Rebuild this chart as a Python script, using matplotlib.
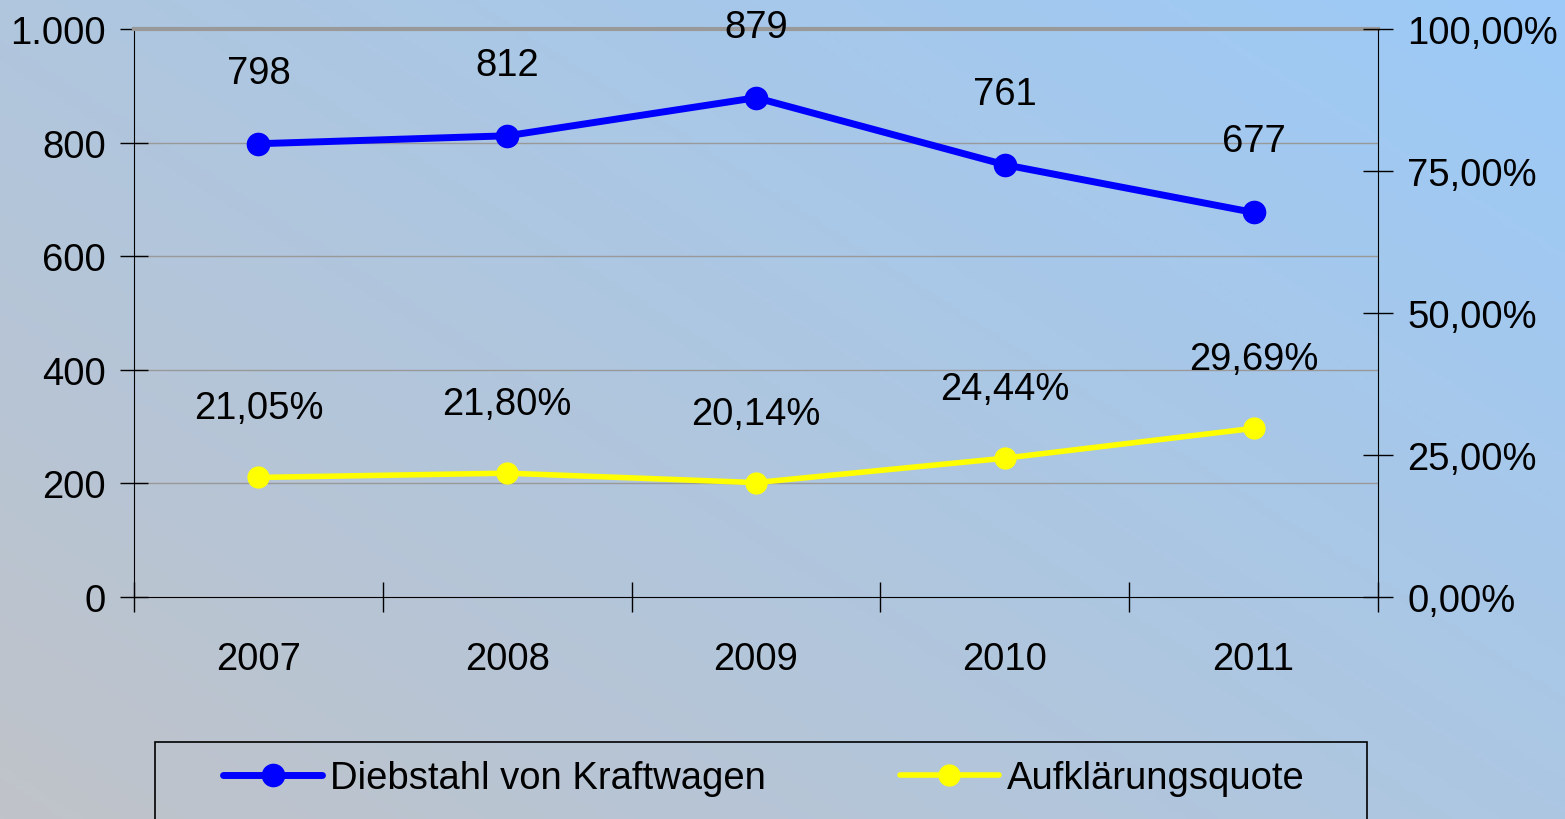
import matplotlib
matplotlib.use("Agg")
import matplotlib.pyplot as plt
import numpy as np
from matplotlib.patches import Rectangle
from matplotlib.lines import Line2D

years = ["2007", "2008", "2009", "2010", "2011"]
diebstahl = [798, 812, 879, 761, 677]
quote = [21.05, 21.80, 20.14, 24.44, 29.69]
left_ticks = [0, 200, 400, 600, 800, 1000]
left_labels = ["0", "200", "400", "600", "800", "1.000"]
right_ticks = [0, 25, 50, 75, 100]
right_labels = ["0,00%", "25,00%", "50,00%", "75,00%", "100,00%"]
series_names = ["Diebstahl von Kraftwagen", "Aufklärungsquote"]

plt.rcParams['font.family'] = ['Liberation Sans', 'DejaVu Sans']
FS = 27.5

W, H = 1565, 820
fig = plt.figure(figsize=(W / 100, H / 100), dpi=100)

# background gradient (bottom-left gray -> top-right light blue)
bg = fig.add_axes([0, 0, 1, 1], zorder=-10)
bg.axis('off')
yy, xx = np.mgrid[0:1:200j, 0:1:400j]
t = np.clip(0.55 * xx + 0.45 * yy, 0, 1)
c0 = np.array([192, 195, 201]) / 255
c1 = np.array([156, 202, 248]) / 255
img = c0[None, None, :] * (1 - t[..., None]) + c1[None, None, :] * t[..., None]
bg.imshow(img, origin='lower', extent=[0, 1, 0, 1], aspect='auto')
bg.set_xlim(0, 1)
bg.set_ylim(0, 1)

ax = fig.add_axes([134 / W, 1 - 598 / H, (1378 - 134) / W, (598 - 30) / H])
ax.patch.set_alpha(0)
x = np.arange(len(years))

ax.set_xlim(-0.5, len(years) - 0.5)
ax.set_ylim(0, 1000)
ax.set_yticks(left_ticks)
ax.set_yticklabels(left_labels, fontsize=FS)
ax.set_xticks(np.arange(-0.5, len(years), 1.0))
ax.set_xticklabels([])
ax.set_xticks(x, minor=True)
ax.set_xticklabels(years, minor=True, fontsize=FS)
ax.tick_params(axis='x', which='major', direction='inout', length=22, width=1, color='black')
ax.tick_params(axis='x', which='minor', length=0, pad=32)
ax.tick_params(axis='y', direction='inout', length=20, width=1, pad=10, color='black')

for yv in left_ticks[1:-1]:
    ax.axhline(yv, color='#999999', lw=1, zorder=1)
ax.spines['top'].set_color('#999999')
ax.spines['top'].set_linewidth(3)
ax.spines['left'].set_color('black')
ax.spines['bottom'].set_color('black')
ax.spines['right'].set_visible(False)

ax.plot(x, diebstahl, color='#0000ff', lw=5, marker='o', ms=16, zorder=5, solid_capstyle='round')
for xi, v in zip(x, diebstahl):
    ax.annotate(str(v), (xi, v), xytext=(0, 71), textcoords='offset pixels',
                ha='center', va='center', fontsize=FS, zorder=6)

ax2 = ax.twinx()
ax2.set_ylim(0, 100)
ax2.set_yticks(right_ticks)
ax2.set_yticklabels(right_labels, fontsize=FS)
ax2.tick_params(axis='y', direction='inout', length=22, width=1, pad=10, color='black')
for s in ['top', 'left', 'bottom']:
    ax2.spines[s].set_visible(False)
ax2.spines['right'].set_color('black')
ax2.plot(x, quote, color='#ffff00', lw=4, marker='o', ms=15, zorder=5, solid_capstyle='round')
for xi, v in zip(x, quote):
    ax2.annotate(f"{v:.2f}%".replace('.', ','), (xi, v), xytext=(0, 69), textcoords='offset pixels',
                 ha='center', va='center', fontsize=FS, zorder=6)

# legend box
fig.patches.append(Rectangle((155 / W, -0.05), (1367 - 155) / W, (820 - 743) / H + 0.05,
                             transform=fig.transFigure, fill=False, edgecolor='black', lw=1.2))
handles = [Line2D([], [], color='#0000ff', lw=5, marker='o', ms=16, solid_capstyle='round'),
           Line2D([], [], color='#ffff00', lw=4, marker='o', ms=15, solid_capstyle='round')]
fig.legend(handles, series_names, loc='center left', bbox_to_anchor=(204 / W, 1 - 779 / H),
           ncol=2, frameon=False, fontsize=FS, handlelength=2.6, handletextpad=0.2,
           columnspacing=3.5, borderpad=0)

fig.savefig("out.png", dpi=100)
